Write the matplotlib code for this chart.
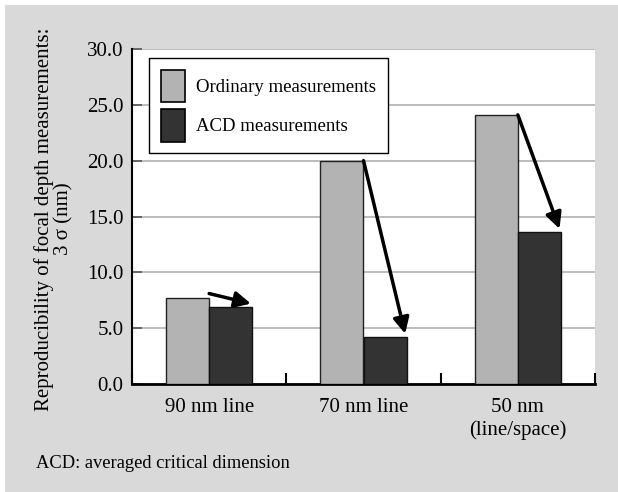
import matplotlib
matplotlib.use("Agg")
import matplotlib.pyplot as plt
from matplotlib.patches import Rectangle

plt.rcParams['font.family'] = ['Liberation Serif', 'DejaVu Serif']

categories = ["90 nm line", "70 nm line", "50 nm\n(line/space)"]
ordinary = [7.7, 20.0, 24.1]
acd = [6.9, 4.2, 13.6]
series_names = ["Ordinary measurements", "ACD measurements"]
yticks = [0.0, 5.0, 10.0, 15.0, 20.0, 25.0, 30.0]

W, H = 618, 492
fig = plt.figure(figsize=(W / 100, H / 100), dpi=100)
fig.patch.set_facecolor('white')
fig.patches.append(Rectangle((5 / W, 0), 1 - 5 / W, 1 - 5 / H, transform=fig.transFigure,
                             facecolor='#d9d9d9', edgecolor='none', zorder=-10))

ax = fig.add_axes([132 / W, 1 - 384 / H, (595 - 132) / W, (384 - 49) / H])
ax.set_facecolor('white')

bw = 0.28
xs = list(range(len(categories)))
ax.bar([x - bw for x in xs], ordinary, width=bw, align='edge', color='#b3b3b3',
       edgecolor='#222222', linewidth=1.0, label=series_names[0], zorder=3)
ax.bar(xs, acd, width=bw, align='edge', color='#333333',
       edgecolor='#111111', linewidth=1.0, label=series_names[1], zorder=3)

# arrows from ordinary to ACD bar tops
start_off = [0.4, 0.0, 0.0]
for i in xs:
    ax.annotate('', xy=(i + 0.27, acd[i] + 0.3), xytext=(i, ordinary[i] + start_off[i]),
                arrowprops=dict(arrowstyle='-|>,head_length=0.6,head_width=0.3', lw=2.5,
                                color='black', shrinkA=0, shrinkB=0, mutation_scale=16),
                zorder=5)

ax.set_xlim(-0.5, 2.5)
ax.set_ylim(0, 30)
ax.set_yticks(yticks)
ax.set_yticklabels([f"{v:.1f}" for v in yticks], fontsize=15)
ax.yaxis.grid(True, color='#b0b0b0', linewidth=1.2, zorder=0)
ax.set_axisbelow(True)
ax.tick_params(axis='y', direction='in', length=7, width=1.2, color='#555555', pad=6)

ax.set_xticks(xs)
ax.set_xticklabels(categories, fontsize=15, linespacing=1.2)
ax.set_xticks([-0.5, 0.5, 1.5, 2.5], minor=True)
ax.tick_params(axis='x', which='major', length=0, pad=10)
ax.tick_params(axis='x', which='minor', direction='in', length=8, width=1.5, color='black')

for s in ['top', 'right']:
    ax.spines[s].set_visible(False)
ax.spines['left'].set_linewidth(1.5)
ax.spines['bottom'].set_linewidth(2.0)

leg = ax.legend(loc='upper left', bbox_to_anchor=(149 / W, 1 - 58 / H),
                bbox_transform=fig.transFigure, borderaxespad=0, fontsize=13.5,
                handlelength=1.28, handleheight=2.3, handletextpad=0.6,
                labelspacing=0.37, borderpad=0.62, fancybox=False, framealpha=1,
                edgecolor='black')
leg.get_frame().set_linewidth(1.0)
leg.set_zorder(10)
for h in leg.legend_handles:
    h.set_edgecolor('black')
    h.set_linewidth(1.2)

fig.text(54 / W, 1 - 219 / H, "Reproducibility of focal depth measurements:\n3 σ (nm)",
         rotation=90, ha='center', va='center', multialignment='center',
         fontsize=15, linespacing=1.05)

fig.text(36 / W, 1 - 463 / H, "ACD: averaged critical dimension", ha='left', va='center',
         fontsize=13.3)

fig.savefig("out.png", dpi=100)
